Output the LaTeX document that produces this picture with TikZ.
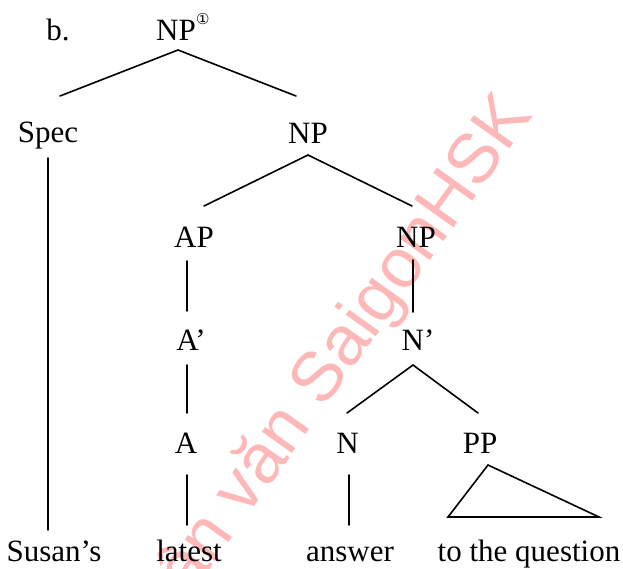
\documentclass[tikz,border=0pt]{standalone}
\usepackage{fontspec}
\setmainfont{Liberation Serif}
\newfontfamily\stampfont{Liberation Sans}
\newfontfamily\dvsfont{DejaVu Sans}
\begin{document}
\begin{tikzpicture}[x=1pt,y=-1pt,
  lbl/.style={anchor=base, inner sep=0pt, font=\fontsize{31}{31}\selectfont},
  edge/.style={line width=1.6pt, line cap=round}]
\useasboundingbox (0,0) rectangle (623,568);
% faint stamp running diagonally behind the tree
\begin{scope}
  \clip (0,0) rectangle (623,568);
  \node[anchor=base east, rotate=54.5, inner sep=0pt, text=red!28,
        font=\stampfont\fontsize{70}{70}\selectfont] (stamp) at (534,115) {Luận văn SaigonHSK};
\end{scope}
% labels
\node[lbl] (lb) at (58,40) {b.};
\node[lbl] (np1) at (176,40) {NP};
\node[anchor=base west, inner sep=0pt, font=\dvsfont\fontsize{15}{15}\selectfont] (mark) at (196,24) {①};
\node[lbl] (spec) at (48,142) {Spec};
\node[lbl] (np2) at (308,143) {NP};
\node[lbl] (ap) at (194,247) {AP};
\node[lbl] (np3) at (416,247) {NP};
\node[lbl] (abar) at (191,350) {A’};
\node[lbl] (nbar) at (418,350) {N’};
\node[lbl] (a) at (186,453) {A};
\node[lbl] (n) at (347.5,453) {N};
\node[lbl] (pp) at (480,453) {PP};
\node[lbl] (w1) at (54,561) {Susan’s};
\node[lbl] (w2) at (189,561) {latest};
\node[lbl] (w3) at (350,561) {answer};
\node[lbl] (w4) at (529,561) {to the question};
% branch end points
\coordinate (np1-foot) at (178,50);
\coordinate (spec-head) at (60,96);
\coordinate (np2-head) at (296,96);
\coordinate (spec-foot) at (48,158);
\coordinate (w1-head) at (48,530);
\coordinate (np2-foot) at (308,155);
\coordinate (ap-head) at (204,206);
\coordinate (np3-head) at (412,206);
\coordinate (ap-foot) at (187,261);
\coordinate (abar-head) at (187,311);
\coordinate (abar-foot) at (187,365);
\coordinate (a-head) at (187,413);
\coordinate (a-foot) at (187,475);
\coordinate (w2-head) at (187,525);
\coordinate (np3-foot) at (413,260);
\coordinate (nbar-head) at (413,312);
\coordinate (nbar-foot) at (413,365);
\coordinate (n-head) at (347,413);
\coordinate (pp-head) at (478,413);
\coordinate (n-foot) at (349,475);
\coordinate (w3-head) at (349,525);
\coordinate (pp-foot) at (488,465);
\coordinate (tri-l) at (448,517);
\coordinate (tri-r) at (599,517);
% branches
\draw[edge] (spec-head) -- (np1-foot) -- (np2-head);
\draw[edge] (spec-foot) -- (w1-head);
\draw[edge] (ap-head) -- (np2-foot) -- (np3-head);
\draw[edge] (ap-foot) -- (abar-head);
\draw[edge] (abar-foot) -- (a-head);
\draw[edge] (a-foot) -- (w2-head);
\draw[edge] (np3-foot) -- (nbar-head);
\draw[edge] (n-head) -- (nbar-foot) -- (pp-head);
\draw[edge] (n-foot) -- (w3-head);
\draw[edge, line join=miter] (pp-foot) -- (tri-l) -- (tri-r) -- cycle;
\end{tikzpicture}
\end{document}
